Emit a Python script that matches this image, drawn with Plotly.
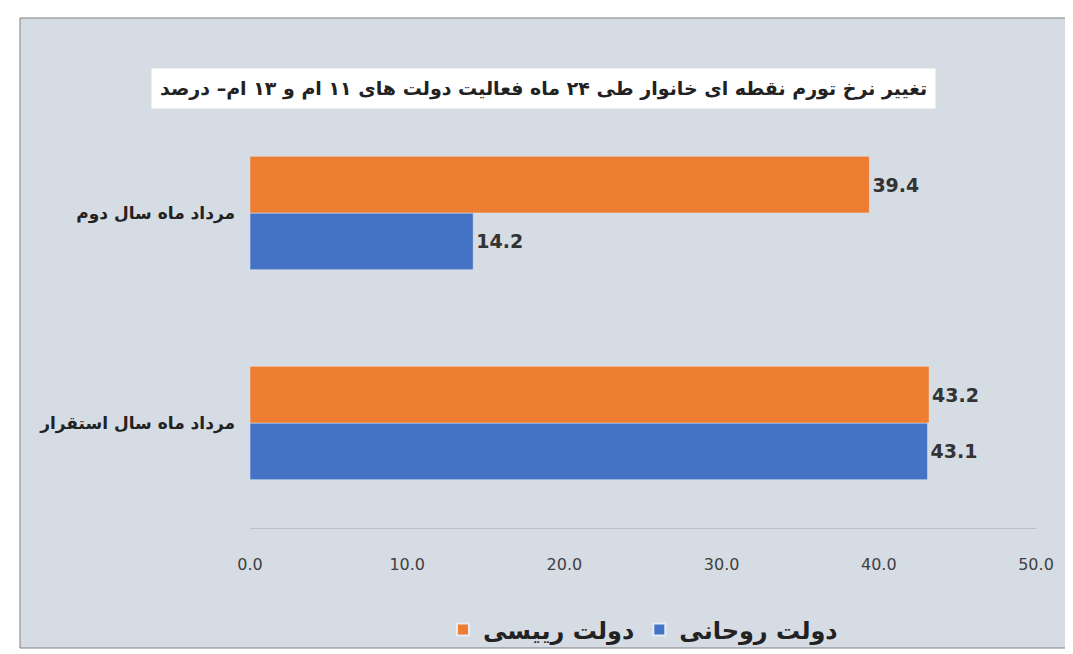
import plotly.graph_objects as go

categories = ['مرداد ماه سال استقرار', 'مرداد ماه سال دوم']
rouhani = [43.1, 14.2]
raisi = [43.2, 39.4]
x_ticks = [0, 10, 20, 30, 40, 50]

W, H = 1073, 654
L, R, T, B = 242, 45, 100, 134
pw, ph = W - L - R, H - T - B

def px(x):
    return (x - L) / pw

def py(y):
    return 1 - (y - T) / ph

font = 'DejaVu Sans'

fig = go.Figure()
fig.add_trace(go.Bar(y=categories, x=rouhani, orientation='h', name='<b>دولت روحانی</b>',
                     marker_color='#4472C4', text=[f'<b>{v:.1f}</b>' for v in rouhani],
                     textposition='outside', cliponaxis=False,
                     textfont=dict(size=19, color='#333333', family=font)))
fig.add_trace(go.Bar(y=categories, x=raisi, orientation='h', name='<b>دولت رییسی</b>',
                     marker_color='#ED7D31', text=[f'<b>{v:.1f}</b>' for v in raisi],
                     textposition='outside', cliponaxis=False,
                     textfont=dict(size=19, color='#333333', family=font)))

fig.update_layout(
    width=W, height=H,
    margin=dict(l=L, r=R, t=T, b=B, autoexpand=False),
    paper_bgcolor='white', plot_bgcolor='#D6DCE4',
    barmode='group', bargap=0.46, bargroupgap=0,
    font=dict(family=font, color='#333333'),
    xaxis=dict(range=[0, 50], tickvals=x_ticks, tickformat='.1f', showgrid=False,
               showline=True, linecolor='#BFBFBF', linewidth=1, zeroline=False,
               tickfont=dict(size=16, color='#404040'), ticks='', ticklabelstandoff=22,
               automargin=False),
    yaxis=dict(showgrid=False, ticks='', tickfont=dict(size=17, color='#222222'),
               ticklabelstandoff=14, automargin=False),
    legend=dict(orientation='h', x=0.5, xanchor='center', y=py(622), yanchor='middle',
                traceorder='reversed', font=dict(size=24, color='#222222'),
                bgcolor='rgba(0,0,0,0)', itemsizing='constant'),
    shapes=[dict(type='rect', xref='paper', yref='paper', x0=px(12), x1=px(1062),
                 y0=py(640), y1=py(10), fillcolor='#D6DCE4',
                 line=dict(color='#7F7F7F', width=1), layer='below')],
    annotations=[dict(text='<b>تغییر نرخ تورم نقطه ای خانوار طی ۲۴ ماه فعالیت دولت های ۱۱ ام و ۱۳ ام– درصد</b>',
                      xref='paper', yref='paper', x=px(535), y=py(60), showarrow=False,
                      font=dict(size=19, color='#222222'), bgcolor='white', borderpad=8)],
)
fig.update_yaxes(tickprefix='<b>', ticksuffix='</b>')
fig.write_html('out.html')
